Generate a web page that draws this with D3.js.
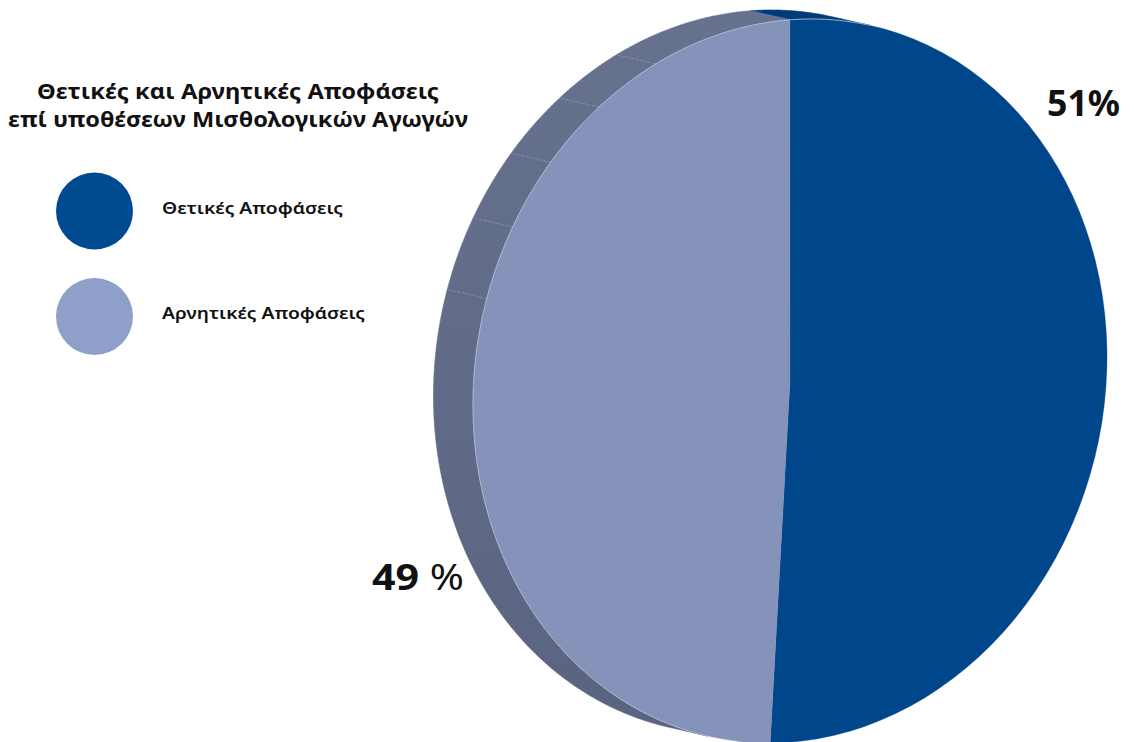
<!DOCTYPE html>
<html><head><meta charset="utf-8">
<script src="https://cdn.jsdelivr.net/npm/d3@7"></script>
<style>
html,body{margin:0;padding:0;background:#fff;}
svg{display:block;}
text{font-family:"Noto Sans","Open Sans",sans-serif;fill:#111;}
</style></head>
<body>
<script>
// ---- data ----
const categories = ["Θετικές Αποφάσεις", "Αρνητικές Αποφάσεις"];
const values = [51, 49];
const valueLabels = ["51%", "49 %"];
const titleLines = ["Θετικές και Αρνητικές Αποφάσεις", "επί υποθέσεων Μισθολογικών Αγωγών"];

// ---- styling / layout ----
const W = 1134, H = 742;
const frontColors = ["#00468a", "#8593bb"];
const legendColors = ["#004a8f", "#8e9fca"];
const sideColors = [["#003b78", "#003b78"], ["#67728f", "#5a6480"]];
const cx = 790, cy = 381;           // centre of front face
const rxL = 314.2, ryL = 364.5;     // semi-axes of projected face
const tilt = 13.25;                 // degrees, rotation of projected ellipse
const spin = -15.3;                 // degrees, rotation of the pie within its plane
const dx = -39.5, dy = -9;          // depth offset of the back face
const facetAngles = [-25, -37, -49, -61, -73];

const rad = Math.PI / 180;
const ct = Math.cos(tilt * rad), st = Math.sin(tilt * rad);
function pt(a) {
  const b = a + spin * rad;
  const p = rxL * Math.sin(b), v = -ryL * Math.cos(b);
  return [cx + p * ct - v * st, cy + p * st + v * ct];
}
function visible(a) {
  const e = 1e-4;
  const p0 = pt(a - e), p1 = pt(a + e), c = pt(a);
  const tx = p1[0] - p0[0], ty = p1[1] - p0[1];
  let nx = ty, ny = -tx;
  if (nx * (c[0] - cx) + ny * (c[1] - cy) < 0) { nx = -nx; ny = -ny; }
  return nx * dx + ny * dy > 0;
}

const svg = d3.select("body").append("svg").attr("width", W).attr("height", H);
const defs = svg.append("defs");
sideColors.forEach((c, i) => {
  const g = defs.append("linearGradient").attr("id", "side" + i)
    .attr("gradientUnits", "userSpaceOnUse").attr("x1", 0).attr("y1", 0).attr("x2", 0).attr("y2", H);
  g.append("stop").attr("offset", "0").attr("stop-color", c[0]);
  g.append("stop").attr("offset", "1").attr("stop-color", c[1]);
});

const pie = d3.pie().sort(null).value(d => d);
const arcs = pie(values);
const R = 100;
const arcGen = d3.arc().innerRadius(0).outerRadius(R);
const line = d3.line();
const step = Math.PI / 720;

// side of the pie
arcs.forEach((d, i) => {
  const runs = []; let cur = null;
  for (let a = d.startAngle; a <= d.endAngle + 1e-9; a += step) {
    const aa = Math.min(a, d.endAngle);
    if (visible(aa)) { if (!cur) { cur = []; runs.push(cur); } cur.push(aa); }
    else cur = null;
  }
  runs.forEach(run => {
    const front = run.map(pt);
    const back = run.slice().reverse().map(a => { const p = pt(a); return [p[0] + dx, p[1] + dy]; });
    svg.append("path").attr("d", line(front.concat(back)) + "Z")
      .attr("fill", "url(#side" + i + ")")
      .attr("stroke", "url(#side" + i + ")").attr("stroke-width", 0.6);
  });
});

// facet lines on the side
facetAngles.forEach(deg => {
  const p = pt(deg * rad);
  svg.append("line").attr("x1", p[0]).attr("y1", p[1]).attr("x2", p[0] + dx).attr("y2", p[1] + dy)
    .attr("stroke", "#8c95ae").attr("stroke-width", 0.8).attr("stroke-dasharray", "3,1.5");
});
{
  const p = pt(0);
  svg.append("line").attr("x1", p[0]).attr("y1", p[1]).attr("x2", p[0] + dx).attr("y2", p[1] + dy)
    .attr("stroke", "#4f73a3").attr("stroke-width", 0.8);
}

// front face
const face = svg.append("g")
  .attr("transform", `translate(${cx},${cy}) rotate(${tilt}) scale(${rxL / R},${ryL / R}) rotate(${spin})`);
face.selectAll("path").data(arcs).join("path")
  .attr("d", arcGen)
  .attr("fill", (d, i) => frontColors[i])
  .attr("stroke", (d, i) => frontColors[i]).attr("stroke-width", 0.1);

// light rim line on the visible front edge
{
  const vis = [];
  for (let a = Math.PI; a < 3 * Math.PI; a += step) { if (visible(a)) vis.push(pt(a)); }
  svg.append("path").attr("d", line(vis)).attr("fill", "none")
    .attr("stroke", "#b3bcd5").attr("stroke-width", 0.9);
}

// value labels
svg.append("text").attr("x", 1047).attr("y", 116)
  .style("font-size", "35px").style("font-weight", 700)
  .attr("textLength", 73).attr("lengthAdjust", "spacingAndGlyphs").text(valueLabels[0]);
const lab2 = svg.append("text").attr("x", 372).attr("y", 590).style("font-size", "36px")
  .attr("textLength", 92).attr("lengthAdjust", "spacingAndGlyphs");
const parts = valueLabels[1].split(" ");
lab2.append("tspan").style("font-weight", 700).text(parts[0]);
lab2.append("tspan").style("font-weight", 400).text(" " + parts[1]);

// title
const titleY = [99, 127];
const titleW = [402, 460];
titleLines.forEach((t, i) => {
  svg.append("text").attr("x", 238).attr("y", titleY[i]).attr("text-anchor", "middle")
    .style("font-size", "21px").style("font-weight", 700)
    .attr("textLength", titleW[i]).attr("lengthAdjust", "spacingAndGlyphs").text(t);
});

// legend
const legY = [211, 316.5];
const legW = [181, 203];
categories.forEach((c, i) => {
  svg.append("circle").attr("cx", 94.5).attr("cy", legY[i]).attr("r", 38.5).attr("fill", legendColors[i]);
  svg.append("text").attr("x", 162).attr("y", legY[i] + 2.5)
    .style("font-size", "16px").style("font-weight", 600)
    .attr("textLength", legW[i]).attr("lengthAdjust", "spacingAndGlyphs").text(c);
});
</script>
</body></html>
